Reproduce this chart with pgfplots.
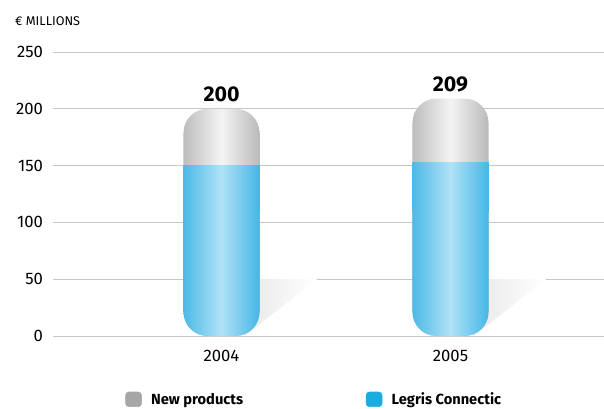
\documentclass[border=0pt]{standalone}
\usepackage{pgfplots}
\pgfplotsset{compat=1.18}
\usepackage{fontspec}
\setmainfont{Fira Sans}
\definecolor{gridc}{HTML}{C8C8C8}
\definecolor{blueL}{HTML}{4DBAE7}
\definecolor{blueM}{HTML}{B0E2F7}
\definecolor{blueR}{HTML}{45B6E5}
\definecolor{greyL}{HTML}{BDBDBD}
\definecolor{greyM}{HTML}{F4F4F4}
\definecolor{greyR}{HTML}{BABABA}
\definecolor{legGrey}{HTML}{A6A6A6}
\definecolor{legBlue}{HTML}{1BACDF}
\definecolor{shad}{HTML}{E8E8E8}
\pgfplotsset{
  greybar/.style={ybar, draw=none, rounded corners=18pt,
    left color=greyL, right color=greyR, middle color=greyM, forget plot,
    nodes near coords,
    every node near coord/.append style={font=\fontsize{16}{18}\selectfont\bfseries, text=black, anchor=south, inner sep=5pt}},
  bluebar/.style={ybar, draw=none, rounded corners=18pt,
    left color=blueL, right color=blueR, middle color=blueM, forget plot},
  bluefill/.style={draw=none, left color=blueL, right color=blueR, middle color=blueM, forget plot},
}
\begin{document}
\begin{tikzpicture}
\useasboundingbox (0,0) rectangle (453pt,306pt);
\begin{axis}[
  at={(39.75pt,54pt)}, anchor=south west,
  scale only axis, width=413.25pt, height=213pt,
  xmin=-0.7358, xmax=1.6703, ymin=0, ymax=250,
  axis line style={draw=none},
  major tick length=0pt,
  xtick={0,1}, xticklabels={2004,2005},
  ytick={0,50,...,250},
  ymajorgrids, grid style={gridc, line width=0.75pt},
  clip=false,
  /pgf/number format/assume math mode=true,
  tick label style={font=\fontsize{12.5}{14}\selectfont},
  yticklabel style={xshift=-4pt},
  xticklabel style={yshift=-7pt},
  bar width=0.3319,
  legend style={at={(axis description cs:0.1307,-0.2254)}, anchor=west,
    draw=none, fill=none, inner sep=0pt, legend columns=2,
    font=\fontsize{11}{13}\selectfont\bfseries,
    /tikz/every even column/.append style={column sep=90pt},
    /tikz/every odd column/.append style={column sep=5pt},
    nodes={inner sep=2pt}},
  legend cell align=left,
]
% shadows
\addplot[draw=none, left color=shad, right color=white, forget plot]
  coordinates {(0.10,0) (0.10,50) (0.417,50) (0.10,0)};
\addplot[draw=none, left color=shad, right color=white, forget plot]
  coordinates {(1.10,0) (1.10,50) (1.417,50) (1.10,0)};
% totals (grey caps = New products on top)
\addplot[greybar] coordinates {(0,200)};
\addplot[greybar] coordinates {(1,209)};
% Legris Connectic (blue)
\addplot[bluebar] coordinates {(0,150)};
\addplot[bluebar] coordinates {(1,153)};
\addplot[bluefill]
  coordinates {(-0.16595,110) (0.16595,110) (0.16595,150) (-0.16595,150) (-0.16595,110)};
\addplot[bluefill]
  coordinates {(0.83405,110) (1.16595,110) (1.16595,153) (0.83405,153) (0.83405,110)};
\addlegendimage{legend image code/.code={\fill[legGrey, rounded corners=2.5pt] (0pt,-5pt) rectangle (12pt,6pt);}}
\addlegendentry{New products}
\addlegendimage{legend image code/.code={\fill[legBlue, rounded corners=2.5pt] (0pt,-5pt) rectangle (12pt,6pt);}}
\addlegendentry{Legris Connectic}
\node[anchor=west, inner sep=0pt, font=\fontsize{9.5}{11}\selectfont] at (axis description cs:-0.069,1.109) {€ MILLIONS};
\end{axis}
\end{tikzpicture}
\end{document}
